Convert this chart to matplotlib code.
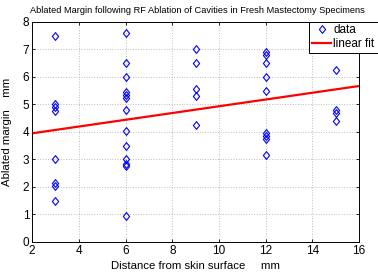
import matplotlib
matplotlib.use('Agg')
import matplotlib.pyplot as plt
from matplotlib.path import Path
import numpy as np

plt.rcParams['font.family'] = ['Liberation Sans', 'DejaVu Sans']

# distance from skin surface (mm) and ablated margin (mm)
dist_3 = [3] * 8
margin_3 = [7.5, 5.0, 4.9, 4.75, 3.0, 2.15, 2.05, 1.5]
dist_6 = [6] * 13
margin_6 = [7.6, 6.5, 6.0, 5.45, 5.35, 5.25, 4.8, 4.05, 3.5, 3.0, 2.85, 2.75, 0.95]
dist_9 = [9] * 5
margin_9 = [7.0, 6.5, 5.55, 5.3, 4.25]
dist_12 = [12] * 9
margin_12 = [6.9, 6.8, 6.5, 6.0, 5.5, 3.95, 3.85, 3.75, 3.15]
dist_15 = [15] * 4
margin_15 = [6.25, 4.8, 4.7, 4.4]

# linear fit (endpoints)
fit_x = [2, 16]
fit_y = [3.95, 5.67]

x = np.array(dist_3 + dist_6 + dist_9 + dist_12 + dist_15)
y = np.array(margin_3 + margin_6 + margin_9 + margin_12 + margin_15)

# matlab style diamond, a bit taller than wide
diamond = Path([(0, 1), (0.8, 0), (0, -1), (-0.8, 0), (0, 1)],
               [Path.MOVETO, Path.LINETO, Path.LINETO, Path.LINETO, Path.CLOSEPOLY])

fig = plt.figure(figsize=(3.78, 2.74), dpi=100, facecolor='white')
ax = fig.add_axes([0.085, 0.117, 0.865, 0.803])

ax.plot(x, y, linestyle='none', marker=diamond, markersize=5.6, markerfacecolor='none',
        markeredgecolor='#0000ff', markeredgewidth=0.8, label='data')
ax.plot(fit_x, fit_y, color='#ff0000', linewidth=1.6, label='linear fit')

ax.set_xlim(2, 16)
ax.set_ylim(0, 8)
ax.set_xticks(range(2, 17, 2))
ax.set_yticks(range(0, 9))
ax.tick_params(labelsize=8.5, direction='in', length=2, width=0.6, pad=2, top=True, right=True)
ax.grid(True, linestyle=':', color='#bdbdbd', linewidth=0.7)
for s in ax.spines.values():
    s.set_linewidth(0.7)

fig.text(0.522, 0.978, 'Ablated Margin following RF Ablation of Cavities in Fresh Mastectomy Specimens',
         fontsize=6.7, ha='center', va='top')
ax.set_xlabel('Distance from skin surface     mm', fontsize=8.2, labelpad=3)
ax.set_ylabel('Ablated margin    mm', fontsize=8.2)
ax.yaxis.set_label_coords(-0.063, 0.5)

leg = ax.legend(loc='upper right', bbox_to_anchor=(377.5 / 378, 252.5 / 274),
                bbox_transform=fig.transFigure, fontsize=8.5, fancybox=False, framealpha=1,
                edgecolor='black', borderpad=0.25, handlelength=1.6, handletextpad=0.2,
                labelspacing=0.15, borderaxespad=0)
leg.get_frame().set_linewidth(0.7)

plt.savefig('out.png', dpi=100)
